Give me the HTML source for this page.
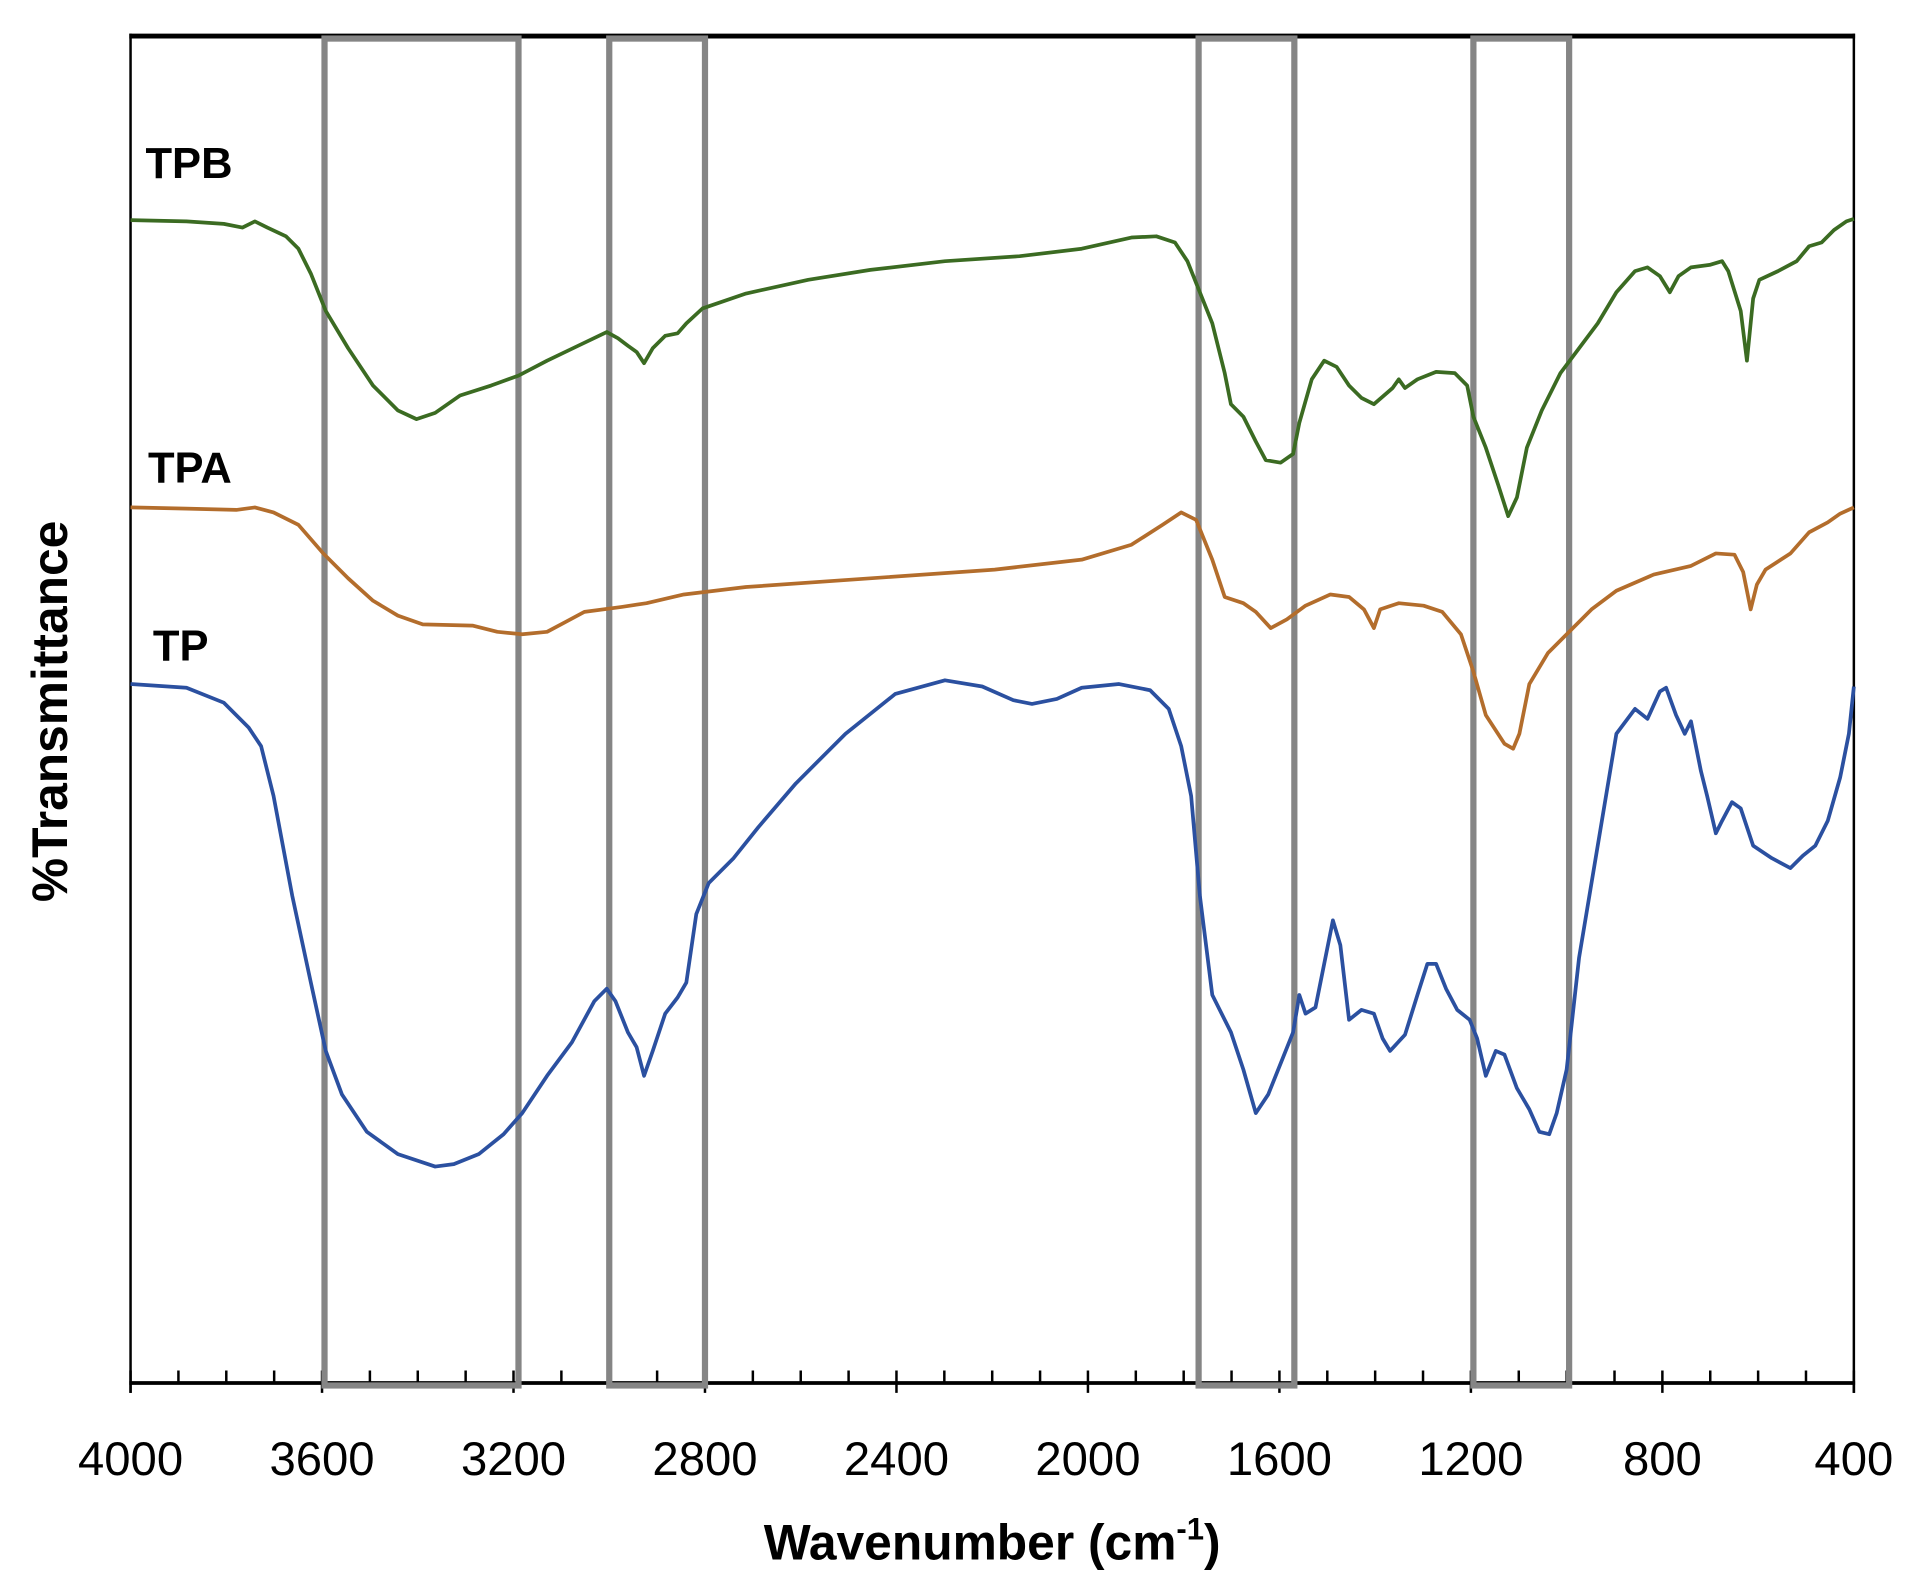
<!DOCTYPE html>
<html><head><meta charset="utf-8"><style>html,body{margin:0;padding:0;background:#fff}svg{display:block}</style></head>
<body>
<svg width="1921" height="1577" viewBox="0 0 1545 1268" preserveAspectRatio="none" xmlns="http://www.w3.org/2000/svg" font-family="Liberation Sans, sans-serif">
<rect width="1545" height="1268" fill="#fff"/>
<line x1="104" y1="29" x2="1492" y2="29" stroke="#000" stroke-width="4"/>
<line x1="105" y1="27" x2="105" y2="1120" stroke="#000" stroke-width="2"/>
<line x1="1491" y1="27" x2="1491" y2="1120" stroke="#000" stroke-width="2"/>
<line x1="104" y1="1112" x2="1492" y2="1112" stroke="#000" stroke-width="3"/>
<g stroke="#000" stroke-width="2">
<path d="M143.5 1112v-10M182 1112v-10M220.5 1112v-10M297.5 1112v-10M336 1112v-10M374.5 1112v-10M451.5 1112v-10M490 1112v-10M528.5 1112v-10M605.5 1112v-10M644 1112v-10M682.5 1112v-10M759.5 1112v-10M798 1112v-10M836.5 1112v-10M913.5 1112v-10M952 1112v-10M990.5 1112v-10M1067.5 1112v-10M1106 1112v-10M1144.5 1112v-10M1221.5 1112v-10M1260 1112v-10M1298.5 1112v-10M1375.5 1112v-10M1414 1112v-10M1452.5 1112v-10"/>
<path d="M105 1102v18M259 1102v18M413 1102v18M567 1102v18M721 1102v18M875 1102v18M1029 1102v18M1183 1102v18M1337 1102v18M1491 1102v18"/>
</g>
<g fill="none" stroke="#858585" stroke-width="5">
<rect x="261" y="31" width="156" height="1083"/>
<rect x="490" y="31" width="77" height="1083"/>
<rect x="964" y="31" width="77" height="1083"/>
<rect x="1185" y="31" width="77" height="1083"/>
</g>
<g fill="none" stroke-width="3" stroke-linejoin="round">
<polyline stroke="#3b6b22" points="105,177 150,178 180,180 195,183 205,178 215,183 230,190 240,200 250,220 262,250 280,280 300,310 320,330 335,337 350,332 370,318 395,310 417,302 440,290 465,278 488,267 497,272 505,278 512,283 518,292 525,280 535,270 545,268 552,260 565,248 600,236 650,225 700,217 760,210 820,206 870,200 910,191 930,190 945,195 955,210 963,230 975,260 985,300 990,325 1000,335 1010,355 1018,370 1030,372 1040,365 1045,340 1055,305 1065,290 1075,295 1085,310 1095,320 1105,325 1120,312 1125,305 1130,312 1140,305 1155,299 1170,300 1180,310 1185,335 1195,360 1205,390 1213,415 1220,400 1228,360 1240,330 1255,300 1270,280 1285,260 1300,235 1315,218 1325,215 1335,222 1343,235 1350,222 1360,215 1375,213 1385,210 1390,218 1400,250 1405,290 1410,240 1415,225 1430,218 1445,210 1455,198 1465,195 1475,185 1485,178 1491,176"/>
<polyline stroke="#b36d2c" points="105,408 150,409 190,410 205,408 220,412 240,422 260,445 280,465 300,483 320,495 340,502 380,503 400,508 420,510 440,508 455,500 470,492 500,488 520,485 550,478 600,472 700,465 800,458 870,450 910,438 935,422 950,412 962,418 975,450 985,480 1000,485 1010,492 1022,505 1035,498 1050,487 1070,478 1085,480 1097,490 1105,505 1110,490 1125,485 1145,487 1160,492 1175,510 1185,540 1195,575 1210,598 1217,602 1222,590 1230,550 1245,525 1260,510 1280,490 1300,475 1330,462 1360,455 1380,445 1395,446 1402,460 1408,490 1413,470 1420,458 1440,445 1455,428 1470,420 1480,413 1491,408"/>
<polyline stroke="#2b50a0" points="105,550 150,553 180,565 200,585 210,600 220,640 235,720 250,790 262,845 275,880 295,910 320,928 350,938 365,936 385,928 405,912 420,895 440,865 460,838 478,805 488,795 495,805 505,830 512,842 518,865 525,845 535,815 545,802 552,790 560,735 570,710 590,690 610,665 640,630 680,590 720,558 760,547 790,552 815,563 830,566 850,562 870,553 900,550 925,555 940,570 950,600 958,640 965,720 975,800 990,830 1000,860 1010,895 1020,880 1032,850 1040,830 1045,800 1050,815 1058,810 1065,775 1072,740 1078,760 1085,820 1095,812 1105,815 1112,835 1118,845 1130,832 1140,800 1148,775 1155,775 1163,795 1172,812 1182,820 1188,835 1195,865 1203,845 1210,848 1220,875 1230,892 1238,910 1246,912 1252,895 1260,860 1270,770 1285,680 1300,590 1315,570 1325,578 1335,556 1340,553 1348,575 1355,590 1360,580 1368,620 1373,640 1380,670 1385,660 1393,645 1400,650 1410,680 1425,690 1440,698 1450,688 1460,680 1470,660 1480,625 1487,590 1491,552"/>
</g>
<g font-weight="bold" font-size="35" fill="#000">
<text x="117" y="143">TPB</text>
<text x="119" y="388">TPA</text>
<text x="123" y="531">TP</text>
</g>
<g font-size="38" fill="#000" text-anchor="middle">
<text x="105" y="1186">4000</text><text x="259" y="1186">3600</text><text x="413" y="1186">3200</text><text x="567" y="1186">2800</text><text x="721" y="1186">2400</text><text x="875" y="1186">2000</text><text x="1029" y="1186">1600</text><text x="1183" y="1186">1200</text><text x="1337" y="1186">800</text><text x="1491" y="1186">400</text>
</g>
<text x="798" y="1254" text-anchor="middle" font-size="40" font-weight="bold">Wavenumber (cm<tspan font-size="25" dy="-16">-1</tspan><tspan dy="16">)</tspan></text>
<text transform="translate(54,572) rotate(-90)" text-anchor="middle" font-size="40" font-weight="bold">%Transmittance</text>
</svg>
</body></html>
